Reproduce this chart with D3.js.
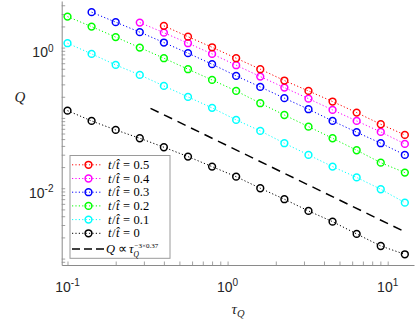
<!DOCTYPE html>
<html>
<head>
<meta charset="utf-8">
<script src="https://cdn.jsdelivr.net/npm/d3@7"></script>
<style>
  html, body { margin: 0; padding: 0; background: #fff; }
  svg { display: block; }
</style>
</head>
<body>
<div id="chart"></div>
<script>
// quench time values (x axis), shared by all series
const tauQ = [0.1, 0.1414, 0.2, 0.2828, 0.4, 0.5657, 0.8, 1.131, 1.6, 2.263, 3.2, 4.525, 6.4, 9.051, 12.8];

// Q for each t/t-hat (series that start later begin at startIdx)
const q05 = [2.04, 1.43, 1.01, 0.707, 0.493, 0.340, 0.242, 0.171, 0.119, 0.0813, 0.0573];
const q04 = [2.27, 1.63, 1.155, 0.814, 0.562, 0.387, 0.270, 0.188, 0.130, 0.0906, 0.0632, 0.0427];
const q03 = [3.19, 2.30, 1.66, 1.18, 0.833, 0.581, 0.396, 0.276, 0.191, 0.133, 0.0906, 0.0626, 0.0437, 0.0298];
const q02 = [2.76, 1.99, 1.41, 1.0, 0.707, 0.493, 0.347, 0.242, 0.162, 0.110, 0.0752, 0.0514, 0.0347, 0.0231, 0.0167];
const q01 = [1.155, 0.814, 0.567, 0.409, 0.285, 0.199, 0.139, 0.0937, 0.0654, 0.0437, 0.0298, 0.0203, 0.01425, 0.00968, 0.00624];
const q00 = [0.127, 0.0906, 0.0675, 0.0514, 0.0383, 0.0282, 0.0203, 0.0146, 0.0100, 0.00698, 0.00476, 0.00335, 0.00224, 0.00151, 0.00115];

const seriesLabels = ["0.5", "0.4", "0.3", "0.2", "0.1", "0"];
const seriesColors = ["#ff0000", "#ff00ff", "#0000ff", "#00ff00", "#00ffff", "#000000"];
const seriesStart = [4, 3, 1, 0, 0, 0];
const seriesQ = [q05, q04, q03, q02, q01, q00];

// reference power law line Q ~ tau^(-3*0.37)
const guideTau = [0.33, 12.8];
const guideQ = [0.137, 0.0024];

const xTicksMajor = [0.1, 1, 10];
const xTickExp = ["-1", "0", "1"];
const yTicksLabelled = [1, 0.01];
const yTickExp = ["0", "-2"];

const width = 415, height = 320;
const plot = { left: 61.7, right: 414, top: 1, bottom: 265 };

const svg = d3.select("#chart").append("svg")
    .attr("width", width)
    .attr("height", height);

const x = d3.scaleLog().domain([0.092, 14.6]).range([plot.left, plot.right]);
const y = d3.scaleLog().domain([8.1e-4, 4.6]).range([plot.bottom, plot.top]);

const axisColor = "#8a8a8a";
const labelColor = "#262626";
const tickLen = 3.5;

// axes, ticks pointing inwards
const xAxis = d3.axisBottom(x)
    .tickValues(x.ticks())
    .tickSizeInner(-tickLen).tickSizeOuter(0)
    .tickFormat("");
const yAxis = d3.axisLeft(y)
    .tickValues(y.ticks())
    .tickSizeInner(-tickLen).tickSizeOuter(0)
    .tickFormat("");

const gx = svg.append("g")
    .attr("transform", `translate(0,${plot.bottom})`)
    .call(xAxis);
const gy = svg.append("g")
    .attr("transform", `translate(${plot.left},0)`)
    .call(yAxis);
[gx, gy].forEach(g => {
    g.select(".domain").attr("stroke", axisColor).attr("stroke-width", 1);
    g.selectAll(".tick line").attr("stroke", axisColor).attr("stroke-width", 0.8);
});

// tick labels as 10^n
const tickFont = "'Liberation Sans', Arial, sans-serif";
xTicksMajor.forEach((v, i) => {
    const t = svg.append("text")
        .attr("x", x(v))
        .attr("y", 291.5)
        .attr("text-anchor", "middle")
        .attr("font-family", tickFont)
        .attr("font-size", 14)
        .attr("fill", labelColor);
    t.append("tspan").text("10");
    t.append("tspan").attr("dy", -5.5).attr("font-size", 10).text(xTickExp[i]);
});
yTicksLabelled.forEach((v, i) => {
    const t = svg.append("text")
        .attr("x", 53.5)
        .attr("y", y(v) + 9.6)
        .attr("text-anchor", "end")
        .attr("font-family", tickFont)
        .attr("font-size", 14)
        .attr("fill", labelColor);
    t.append("tspan").text("10");
    t.append("tspan").attr("dy", -5.5).attr("font-size", 10).text(yTickExp[i]);
});

// axis labels
const mathFont = "'Liberation Serif', 'Times New Roman', serif";
const xl = svg.append("text")
    .attr("x", 238)
    .attr("y", 314)
    .attr("text-anchor", "middle")
    .attr("font-family", mathFont)
    .attr("font-style", "italic")
    .attr("font-size", 15)
    .attr("fill", labelColor);
xl.append("tspan").text("τ");
xl.append("tspan").attr("dy", 3).attr("font-size", 10.5).text("Q");

svg.append("text")
    .attr("x", 20)
    .attr("y", 102)
    .attr("text-anchor", "middle")
    .attr("font-family", mathFont)
    .attr("font-style", "italic")
    .attr("font-size", 15)
    .attr("fill", labelColor)
    .text("Q");

// data series
const line = d3.line().x(d => x(d[0])).y(d => y(d[1]));

const seriesData = seriesQ.map((qs, i) => qs.map((q, j) => [tauQ[seriesStart[i] + j], q]));

// draw from the bottom series up
for (let i = seriesData.length - 1; i >= 0; i--) {
    const g = svg.append("g");
    g.append("path")
        .datum(seriesData[i])
        .attr("d", line)
        .attr("fill", "none")
        .attr("stroke", seriesColors[i])
        .attr("stroke-width", 1)
        .attr("stroke-dasharray", "1.2 2.2");
    g.selectAll("circle")
        .data(seriesData[i])
        .join("circle")
        .attr("cx", d => x(d[0]))
        .attr("cy", d => y(d[1]))
        .attr("r", 3.4)
        .attr("fill", "none")
        .attr("stroke", seriesColors[i])
        .attr("stroke-width", 1.5);
}

svg.append("path")
    .datum(guideTau.map((t, i) => [t, guideQ[i]]))
    .attr("d", line)
    .attr("fill", "none")
    .attr("stroke", "#000")
    .attr("stroke-width", 1.5)
    .attr("stroke-dasharray", "9 6");

// legend
const lg = svg.append("g").attr("transform", "translate(70,155.5)");
lg.append("rect")
    .attr("width", 100)
    .attr("height", 102.8)
    .attr("fill", "#fff")
    .attr("stroke", "#9a9a9a")
    .attr("stroke-width", 1);

const rowH = 13.7;
const legFont = 12.5;
seriesLabels.forEach((lab, i) => {
    const cy = 9.3 + i * rowH;
    lg.append("line")
        .attr("x1", 2).attr("x2", 32)
        .attr("y1", cy).attr("y2", cy)
        .attr("stroke", seriesColors[i])
        .attr("stroke-width", 1)
        .attr("stroke-dasharray", "1.2 2.2");
    lg.append("circle")
        .attr("cx", 18.5).attr("cy", cy).attr("r", 3.4)
        .attr("fill", "none")
        .attr("stroke", seriesColors[i])
        .attr("stroke-width", 1.5);
    const t = lg.append("text")
        .attr("x", 38)
        .attr("y", cy + 4)
        .attr("font-family", mathFont)
        .attr("font-size", legFont)
        .attr("fill", "#000");
    t.append("tspan").attr("font-style", "italic").text("t");
    t.append("tspan").attr("dx", 0.5).text("/");
    t.append("tspan").attr("dx", 0.5).attr("font-style", "italic").text("t\u0302");
    t.append("tspan").attr("dx", 3.5).text("=");
    t.append("tspan").attr("dx", 3.5).text(lab);
});

// power law entry: Q ∝ tau_Q^(-3x0.37)
const gyRow = 93.5;
lg.append("line")
    .attr("x1", 2).attr("x2", 34)
    .attr("y1", gyRow).attr("y2", gyRow)
    .attr("stroke", "#000")
    .attr("stroke-width", 1.5)
    .attr("stroke-dasharray", "8 4");
const gt = lg.append("text")
    .attr("x", 36)
    .attr("y", gyRow + 4)
    .attr("font-family", mathFont)
    .attr("font-size", legFont)
    .attr("fill", "#000");
gt.append("tspan").attr("font-style", "italic").text("Q");
gt.append("tspan").attr("dx", 2.5).text("∝");
gt.append("tspan").attr("dx", 2.5).attr("font-style", "italic").text("τ");
const tauEnd = 36 + gt.node().getComputedTextLength() + 5.5;
lg.append("text")
    .attr("x", tauEnd + 0.5)
    .attr("y", gyRow - 1)
    .attr("font-family", mathFont)
    .attr("font-size", 7)
    .attr("fill", "#000")
    .text("−3×0.37");
lg.append("text")
    .attr("x", tauEnd - 0.5)
    .attr("y", gyRow + 7.5)
    .attr("font-family", mathFont)
    .attr("font-style", "italic")
    .attr("font-size", 7.5)
    .attr("fill", "#000")
    .text("Q");
</script>
</body>
</html>
